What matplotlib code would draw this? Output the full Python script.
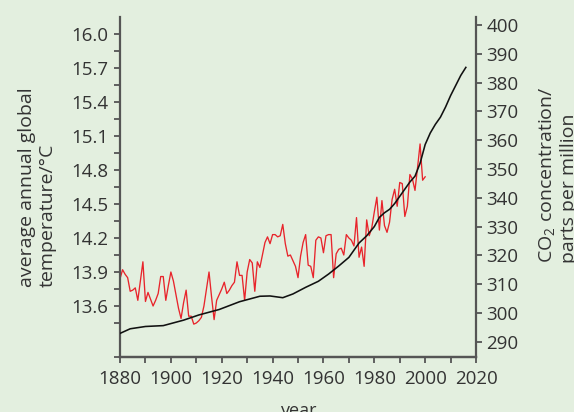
import matplotlib.pyplot as plt
import numpy as np

plt.rcParams['font.family'] = ['Open Sans', 'DejaVu Sans']
plt.rcParams['mathtext.fontset'] = 'custom'
plt.rcParams['mathtext.rm'] = 'Open Sans'

bg = '#e3efdf'
ink = '#333333'
axis_col = '#555555'

# average annual global temperature, 1880-2000
temp_years = np.arange(1880, 2001)
temps = [
    13.84, 13.92, 13.88, 13.85, 13.73, 13.74, 13.76, 13.65, 13.82, 13.99,
    13.64, 13.72, 13.66, 13.60, 13.65, 13.71, 13.86, 13.86, 13.65, 13.78,
    13.90, 13.82, 13.70, 13.58, 13.49, 13.63, 13.74, 13.51, 13.51, 13.44,
    13.45, 13.47, 13.50, 13.60, 13.75, 13.90, 13.68, 13.48, 13.65, 13.70,
    13.75, 13.81, 13.71, 13.74, 13.78, 13.81, 13.99, 13.87, 13.87, 13.65,
    13.90, 14.01, 13.98, 13.73, 13.99, 13.94, 14.05, 14.16, 14.21, 14.15,
    14.23, 14.23, 14.21, 14.22, 14.32, 14.15, 14.04, 14.05, 14.00, 13.95,
    13.85, 14.04, 14.16, 14.23, 13.96, 13.95, 13.85, 14.18, 14.21, 14.20,
    14.07, 14.22, 14.23, 14.23, 13.85, 14.06, 14.10, 14.11, 14.05, 14.23,
    14.20, 14.18, 14.13, 14.38, 14.03, 14.12, 13.95, 14.36, 14.22, 14.29,
    14.43, 14.56, 14.27, 14.53, 14.31, 14.25, 14.34, 14.54, 14.63, 14.48,
    14.69, 14.68, 14.39, 14.48, 14.76, 14.72, 14.62, 14.82, 15.03, 14.71,
    14.74,
]

# CO2 concentration (ppm)
co2_years = [1880, 1884, 1890, 1897, 1905, 1911, 1919, 1927, 1935, 1939,
             1944, 1948, 1953, 1958, 1962, 1966, 1970, 1972, 1974, 1977,
             1980, 1982, 1984, 1986, 1988, 1990, 1992, 1994, 1996, 1998,
             2000, 2002, 2004, 2006, 2008, 2010, 2012, 2014, 2016]
co2_ppm = [292.9, 294.5, 295.3, 295.6, 297.5, 299.3, 301.2, 303.9, 305.8, 305.9,
           305.3, 306.6, 308.9, 311.0, 313.5, 316.3, 319.3, 321.8, 324.3, 326.8,
           330.0, 333.2, 334.8, 336.0, 338.0, 340.5, 343.0, 345.5, 347.5, 352.0,
           358.5, 362.5, 365.5, 368.0, 371.5, 375.5, 379.0, 382.5, 385.3]

temp_ticks = [13.6, 13.9, 14.2, 14.5, 14.8, 15.1, 15.4, 15.7, 16.0]
co2_ticks = list(range(290, 401, 10))
year_ticks = list(range(1880, 2021, 20))

fig = plt.figure(figsize=(5.74, 4.12), dpi=100)
fig.patch.set_facecolor(bg)
ax = fig.add_axes([0.2091, 0.1335, 0.6202, 0.8252])
ax.set_facecolor(bg)
ax2 = ax.twinx()

ax.plot(temp_years, temps, color='#e8242b', lw=0.95)
ax2.plot(co2_years, co2_ppm, color='#111111', lw=1.15)

ax.set_xlim(1880, 2020)
ax.set_ylim(13.15, 16.15)
ax2.set_ylim(284.7, 402.8)

ax.set_xticks(year_ticks)
ax.set_xticks(range(1890, 2020, 20), minor=True)
ax.set_yticks(temp_ticks)
ax.set_yticks(np.arange(13.15, 16.0, 0.3), minor=True)
ax.set_yticklabels(['%.1f' % t for t in temp_ticks])
ax2.set_yticks(co2_ticks)

for a in (ax, ax2):
    for s in a.spines.values():
        s.set_color(axis_col)
        s.set_linewidth(1.6)
    a.spines['top'].set_visible(False)
    a.tick_params(which='both', colors=axis_col, labelcolor=ink,
                  labelsize=13.5, width=1.3, length=4.5)
ax.spines['right'].set_visible(False)
ax2.spines['left'].set_visible(False)
ax.tick_params(axis='y', pad=4)
ax.tick_params(axis='x', pad=5)
ax2.tick_params(axis='y', pad=3)

fig.text(0.0645, 0.303, 'average annual global\ntemperature/°C', rotation=90,
         ha='center', va='bottom', multialignment='left', color=ink,
         fontsize=14, linespacing=1.2)
fig.text(0.972, 0.362, 'CO$_\\mathregular{2}$ concentration/\nparts per million',
         rotation=90, ha='center', va='bottom', multialignment='left',
         color=ink, fontsize=14, linespacing=1.2)
fig.text(0.519, 0.024, 'year', ha='center', va='top', color=ink, fontsize=13)

fig.savefig('out.png', facecolor=bg)
